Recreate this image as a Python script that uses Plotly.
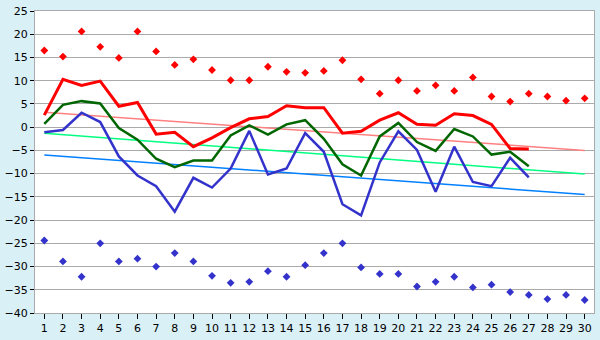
import plotly.graph_objects as go

days = list(range(1, 31))
line_days = list(range(1, 28))
y_ticks = list(range(-40, 30, 5))

# Daily temperatures (°C)
t_max = [2.6, 10.3, 9.0, 9.9, 4.5, 5.3, -1.5, -1.1, -4.2, -2.3,
         -0.1, 1.8, 2.3, 4.6, 4.2, 4.2, -1.3, -0.9, 1.5, 3.1,
         0.6, 0.4, 2.9, 2.5, 0.6, -4.6, -4.7]
t_mean = [0.7, 4.8, 5.6, 5.1, -0.2, -2.7, -6.8, -8.6, -7.2, -7.2,
          -1.8, 0.4, -1.6, 0.6, 1.5, -2.5, -8.0, -10.4, -2.0, 0.9,
          -3.2, -5.1, -0.4, -2.0, -5.9, -5.3, -8.4]
t_min = [-1.1, -0.6, 3.1, 1.1, -6.3, -10.4, -12.7, -18.2, -10.9, -13.0,
         -8.9, -0.8, -10.2, -8.9, -1.3, -5.3, -16.6, -19.0, -7.6, -0.9,
         -4.9, -13.9, -4.2, -11.8, -12.7, -6.6, -10.8]

# Record highs and lows per day
rec_high = [16.5, 15.2, 20.6, 17.3, 14.9, 20.6, 16.3, 13.4, 14.6, 12.3,
            10.1, 10.1, 13.0, 11.9, 11.7, 12.1, 14.4, 10.3, 7.2, 10.1,
            7.8, 9.0, 7.8, 10.7, 6.6, 5.5, 7.2, 6.6, 5.7, 6.2]
rec_low = [-24.4, -28.9, -32.2, -25.0, -28.9, -28.3, -30.0, -27.1, -28.9, -32.0,
           -33.5, -33.3, -31.0, -32.2, -29.7, -27.1, -25.0, -30.2, -31.6, -31.6,
           -34.3, -33.3, -32.2, -34.5, -33.9, -35.5, -36.1, -37.0, -36.1, -37.2]

# Trend lines (values at first and last day of the month)
trend_days = [1, 30]
trend_max = [3.2, -5.0]
trend_mean = [-1.3, -10.1]
trend_min = [-6.0, -14.5]

fig = go.Figure()

fig.add_trace(go.Scatter(x=trend_days, y=trend_max, mode="lines",
                         line=dict(color="#ff8080", width=1.5)))
fig.add_trace(go.Scatter(x=trend_days, y=trend_mean, mode="lines",
                         line=dict(color="#00ff80", width=1.5)))
fig.add_trace(go.Scatter(x=trend_days, y=trend_min, mode="lines",
                         line=dict(color="#0080ff", width=1.5)))

fig.add_trace(go.Scatter(x=line_days, y=t_max, mode="lines",
                         line=dict(color="#ff0000", width=3)))
fig.add_trace(go.Scatter(x=line_days, y=t_mean, mode="lines",
                         line=dict(color="#006600", width=2.5)))
fig.add_trace(go.Scatter(x=line_days, y=t_min, mode="lines",
                         line=dict(color="#3333cc", width=2.5)))

fig.add_trace(go.Scatter(x=days, y=rec_high, mode="markers",
                         marker=dict(symbol="diamond", size=6, color="#ff0000")))
fig.add_trace(go.Scatter(x=days, y=rec_low, mode="markers",
                         marker=dict(symbol="diamond", size=6, color="#3333cc")))

fig.update_layout(
    width=600, height=340,
    margin=dict(l=26, r=5, t=5, b=20),
    paper_bgcolor="#daf0f7",
    plot_bgcolor="#ffffff",
    showlegend=False,
    font=dict(family="DejaVu Sans", size=11, color="#000000"),
)
fig.update_xaxes(
    range=[0.5, 30.5], tickmode="array", tickvals=days,
    showgrid=False, zeroline=False,
    showline=True, linecolor="#aaaaaa", linewidth=1, mirror=True,
    ticks="outside", ticklen=5, tickcolor="#000000",
    ticklabeloverflow="allow",
)
fig.update_yaxes(
    range=[-40, 25], tickmode="array", tickvals=y_ticks,
    showgrid=True, gridcolor="#aaaaaa", gridwidth=1, zeroline=False,
    showline=True, linecolor="#aaaaaa", linewidth=1, mirror=True,
    ticks="outside", ticklen=4, tickcolor="#000000",
    ticklabeloverflow="allow",
)

fig.write_html("out.html")
